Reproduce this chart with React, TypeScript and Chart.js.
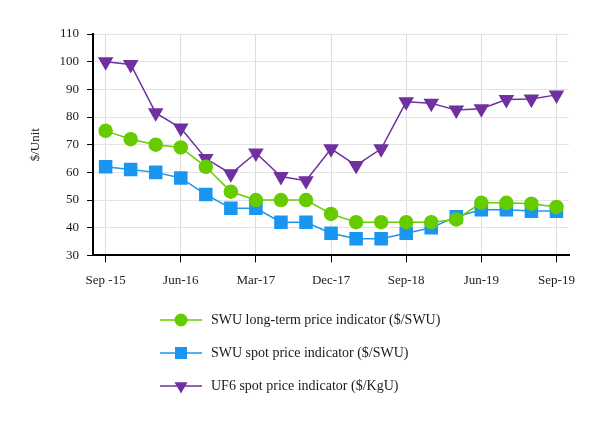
import React, { useEffect, useRef } from "react";
import { Chart, registerables } from "chart.js";

Chart.register(...registerables);

const categories = [
  "Sep -15", "", "", "Jun-16", "", "", "Mar-17", "", "", "Dec-17",
  "", "", "Sep-18", "", "", "Jun-19", "", "", "Sep-19",
];
const swuLongTerm = [75, 72, 70, 69, 62, 53, 50, 50, 50, 45, 42, 42, 42, 42, 43, 49, 49, 48.7, 47.5];
const swuSpot = [62, 61, 60, 58, 52, 47, 47, 42, 42, 38, 36, 36, 38, 40, 44, 46.5, 46.5, 46, 46];
const uf6Spot = [100, 99, 81.5, 76, 65, 59.5, 67, 58.5, 57, 68.5, 62.5, 68.5, 85.5, 85, 82.5, 83, 86.3, 86.5, 88];
const seriesNames = [
  "SWU long-term price indicator ($/SWU)",
  "SWU spot price indicator ($/SWU)",
  "UF6 spot price indicator ($/KgU)",
];
const yTicks = [30, 40, 50, 60, 70, 80, 90, 100, 110];

const GREEN = "#66cc00";
const BLUE = "#1a96f0";
const PURPLE = "#7030a0";
const FONT = "'Liberation Serif', 'Times New Roman', serif";

function drawMarker(ctx: CanvasRenderingContext2D, style: string, r: number, x: number, y: number) {
  ctx.beginPath();
  if (style === "circle") {
    ctx.arc(x, y, r, 0, Math.PI * 2);
  } else if (style === "rect") {
    const s = r * Math.SQRT1_2;
    ctx.rect(x - s, y - s, 2 * s, 2 * s);
  } else {
    const h = r;
    ctx.moveTo(x - Math.sin(Math.PI / 3) * h, y - h / 2);
    ctx.lineTo(x + Math.sin(Math.PI / 3) * h, y - h / 2);
    ctx.lineTo(x, y + h);
    ctx.closePath();
  }
  ctx.fill();
}

const legendPlugin = {
  id: "customLegend",
  afterDraw(chart: any) {
    const ctx = chart.ctx;
    const x0 = 160;
    const x1 = 202;
    const xm = 181;
    const textX = 211;
    const ys = [320, 353, 386];
    ctx.save();
    chart.data.datasets.forEach((ds: any, i: number) => {
      const y = ys[i];
      ctx.strokeStyle = ds.borderColor;
      ctx.lineWidth = 1.5;
      ctx.beginPath();
      ctx.moveTo(x0, y);
      ctx.lineTo(x1, y);
      ctx.stroke();
      ctx.fillStyle = ds.pointBackgroundColor;
      drawMarker(ctx, ds.pointStyle === "triangle" ? "tri" : ds.pointStyle, ds.pointRadius, xm, y);
      ctx.fillStyle = "#1a1a1a";
      ctx.font = `14px ${FONT}`;
      ctx.textBaseline = "middle";
      ctx.textAlign = "left";
      ctx.fillText(seriesNames[i], textX, y);
    });
    ctx.restore();
  },
};

export default function App() {
  const ref = useRef<HTMLCanvasElement>(null);
  useEffect(() => {
    if (!ref.current) return;
    const chart = new Chart(ref.current, {
      type: "line",
      data: {
        labels: categories,
        datasets: [
          {
            label: seriesNames[0],
            data: swuLongTerm,
            borderColor: GREEN,
            backgroundColor: GREEN,
            pointBackgroundColor: GREEN,
            pointBorderColor: GREEN,
            pointStyle: "circle",
            pointRadius: 6.5,
            borderWidth: 1.5,
          },
          {
            label: seriesNames[1],
            data: swuSpot,
            borderColor: BLUE,
            backgroundColor: BLUE,
            pointBackgroundColor: BLUE,
            pointBorderColor: BLUE,
            pointStyle: "rect",
            pointRadius: 8.5,
            borderWidth: 1.5,
          },
          {
            label: seriesNames[2],
            data: uf6Spot,
            borderColor: PURPLE,
            backgroundColor: PURPLE,
            pointBackgroundColor: PURPLE,
            pointBorderColor: PURPLE,
            pointStyle: "triangle",
            pointRotation: 180,
            pointRadius: 7.5,
            borderWidth: 1.5,
          },
        ],
      },
      options: {
        animation: false,
        responsive: false,
        maintainAspectRatio: false,
        layout: { padding: { top: 34, right: 32, bottom: 124, left: 28 } },
        plugins: {
          legend: { display: false },
          tooltip: { enabled: false },
        },
        scales: {
          x: {
            offset: true,
            grid: {
              offset: false,
              color: (c: any) => (c.index % 3 === 0 ? "#dddddd" : "rgba(0,0,0,0)"),
              tickColor: (c: any) => (c.index % 3 === 0 ? "#000" : "rgba(0,0,0,0)"),
              tickLength: 7,
            },
            border: { color: "#000", width: 2 },
            ticks: {
              autoSkip: false,
              maxRotation: 0,
              color: "#1a1a1a",
              font: { family: FONT, size: 13 },
              padding: 10,
            },
          },
          y: {
            min: 30,
            max: 110,
            afterBuildTicks: (s: any) => {
              s.ticks = yTicks.map((v) => ({ value: v }));
            },
            grid: { color: "#e3e3e3", tickColor: "#000", tickLength: 6 },
            border: { color: "#000", width: 2 },
            ticks: {
              color: "#1a1a1a",
              font: { family: FONT, size: 13 },
              padding: 8,
            },
            title: {
              display: true,
              text: "$/Unit",
              color: "#1a1a1a",
              font: { family: FONT, size: 13 },
              padding: { top: 0, bottom: 8 },
            },
          },
        },
      },
      plugins: [legendPlugin],
    });
    return () => chart.destroy();
  }, []);
  return (
    <div style={{ position: "absolute", left: 0, top: 0, width: 601, height: 422, background: "#fff" }}>
      <canvas ref={ref} width={601} height={422} style={{ width: 601, height: 422 }} />
    </div>
  );
}
